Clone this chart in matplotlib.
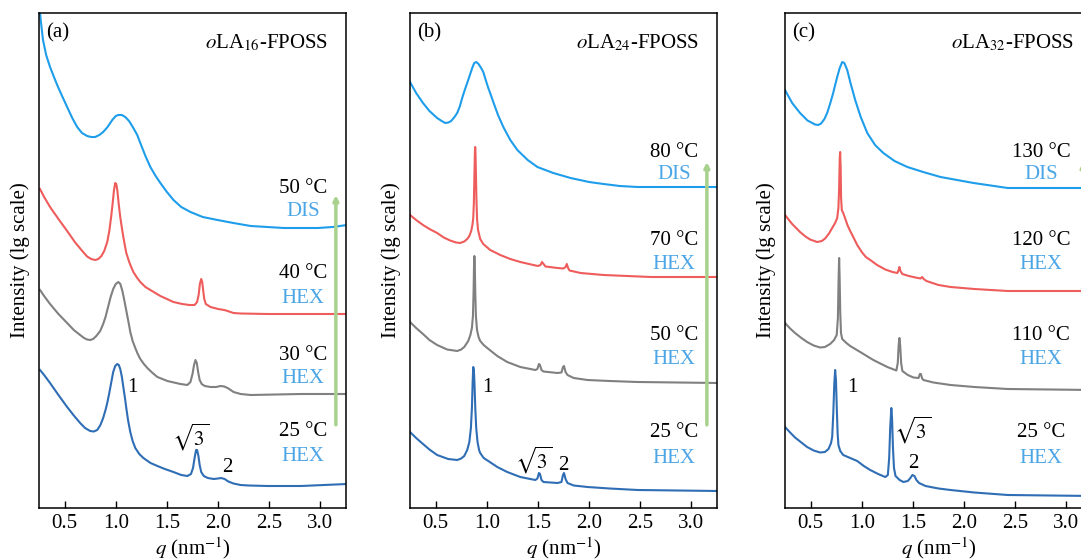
import matplotlib
matplotlib.use("Agg")
import matplotlib.pyplot as plt

plt.rcParams["font.family"] = ["Liberation Serif", "DejaVu Serif"]
plt.rcParams["mathtext.fontset"] = "stix"

# --- data (q in nm^-1, y = lg intensity with offsets, arbitrary units) ---
# panel (a) oLA16-FPOSS
a_q_50 = [0.25, 0.27, 0.289, 0.32, 0.358, 0.40, 0.436, 0.48, 0.525, 0.575, 0.623, 0.67, 0.721, 0.76,
          0.799, 0.84, 0.877, 0.92, 0.966, 1.0, 1.025, 1.06, 1.093, 1.13, 1.172, 1.21, 1.24, 1.29,
          1.338, 1.39, 1.436, 1.50, 1.564, 1.64, 1.73, 1.85, 1.995, 2.15, 2.319, 2.48, 2.642, 2.81,
          2.975, 3.12, 3.26]
a_y_50 = [505, 485, 468, 453, 441, 430, 421, 411, 401, 390, 381, 375, 372, 371,
          371, 373, 376, 381, 388, 392, 393, 393, 391, 387, 380, 373, 365, 352,
          341, 332, 325, 316, 308, 301, 296, 291, 288, 285, 282, 281, 280, 280,
          280, 281, 283]
a_q_40 = [0.26, 0.30, 0.358, 0.44, 0.525, 0.60, 0.681, 0.72, 0.76, 0.80, 0.83, 0.86, 0.887, 0.917,
          0.937, 0.956, 0.97, 0.983, 0.995, 1.005, 1.015, 1.03, 1.044, 1.06, 1.074, 1.09, 1.103,
          1.135, 1.172, 1.21, 1.24, 1.29, 1.338, 1.436, 1.564, 1.65, 1.72, 1.77, 1.795, 1.81, 1.822,
          1.835, 1.845, 1.855, 1.865, 1.88, 1.926, 2.0, 2.06, 2.093, 2.15, 2.22, 2.485, 3.26]
a_y_40 = [319, 311, 301, 289, 277, 266, 256, 251.5, 249, 248, 249, 252, 257, 266,
          277, 292, 305, 318, 325, 324, 318, 303, 291, 280, 271, 262, 255,
          245, 236, 230, 226, 221, 218, 212, 206, 204, 203, 203, 206, 213, 224,
          229, 226, 217, 209, 204, 201, 199, 198, 197, 195, 194.5, 194, 194]
a_q_30 = [0.26, 0.30, 0.358, 0.44, 0.525, 0.59, 0.652, 0.69, 0.72, 0.75, 0.779, 0.81, 0.848, 0.877,
          0.90, 0.925, 0.95, 0.975, 1.0, 1.025, 1.045, 1.065, 1.083, 1.1, 1.113, 1.13, 1.142, 1.165,
          1.191, 1.215, 1.24, 1.275, 1.309, 1.36, 1.407, 1.505, 1.632, 1.70, 1.73, 1.75, 1.765, 1.779,
          1.792, 1.805, 1.82, 1.84, 1.87, 1.926, 1.98, 2.025, 2.06, 2.093, 2.152, 2.22, 2.319, 2.81,
          3.26]
a_y_30 = [218, 212, 204, 194, 185, 178, 173, 170, 168.5, 168, 169, 172, 177, 184,
          191, 201, 211, 219, 224, 226, 224, 217, 208, 199, 192, 183, 176, 167,
          160, 154, 149, 144, 140, 135, 131, 127, 124, 123, 126, 134, 143, 148,
          145, 136, 128, 124, 122, 121, 121, 122, 121.5, 120, 116, 114, 113, 114,
          114]
a_q_25 = [0.26, 0.30, 0.358, 0.44, 0.525, 0.59, 0.652, 0.70, 0.75, 0.785, 0.819, 0.85, 0.877, 0.90,
          0.917, 0.935, 0.955, 0.975, 0.995, 1.015, 1.03, 1.044, 1.06, 1.074, 1.09, 1.103, 1.12,
          1.142, 1.165, 1.191, 1.23, 1.27, 1.34, 1.407, 1.48, 1.564, 1.64, 1.70, 1.735, 1.755, 1.772,
          1.785, 1.795, 1.808, 1.82, 1.835, 1.86, 1.90, 1.956, 2.0, 2.03, 2.064, 2.10, 2.15, 2.22,
          2.3, 2.485, 2.81, 3.26]
a_y_25 = [138, 133, 125, 113, 101, 92.5, 85, 80, 77, 76.5, 78, 83, 90, 98,
          105, 114, 125, 136, 142, 144, 143, 139, 131, 121, 110, 100, 88,
          76, 67, 60, 54, 50, 45, 42, 39, 36, 33, 32, 34, 40, 51,
          58, 58, 52, 43, 36, 32, 30, 29, 29.5, 30, 29, 26.5, 24.5, 23,
          22.5, 22, 22, 24]

# panel (b) oLA24-FPOSS
b_q_80 = [0.25, 0.31, 0.377, 0.44, 0.515, 0.56, 0.593, 0.625, 0.652, 0.685, 0.711, 0.735, 0.76,
          0.785, 0.809, 0.835, 0.858, 0.878, 0.897, 0.92, 0.945, 0.966, 0.99, 1.015, 1.04, 1.064,
          1.11, 1.162, 1.23, 1.299, 1.40, 1.495, 1.65, 1.819, 2.0, 2.142, 2.30, 2.475, 3.26]
b_y_80 = [426, 415, 405, 397, 390, 387, 385, 385.5, 387, 391, 395, 401, 410,
          418, 425, 433, 440, 445, 446, 444, 440, 436, 428, 420, 413, 406,
          393, 381, 368, 358, 348, 341, 335, 330, 326, 324, 322, 321, 321]
b_q_70 = [0.25, 0.31, 0.377, 0.44, 0.515, 0.58, 0.642, 0.70, 0.74, 0.78, 0.809, 0.83, 0.848, 0.86,
          0.868, 0.874, 0.879, 0.884, 0.887, 0.890, 0.895, 0.90, 0.906, 0.915, 0.936, 0.966, 1.034,
          1.132, 1.23, 1.328, 1.456, 1.50, 1.525, 1.54, 1.555, 1.574, 1.691, 1.75, 1.77, 1.782, 1.795,
          1.809, 1.917, 2.142, 2.603, 3.26]
b_y_70 = [293, 288, 283, 279, 275, 270.5, 267.5, 265.5, 265, 266.5, 269, 272, 277, 283,
          290, 305, 330, 355, 361, 355, 330, 305, 288, 278, 269, 264, 258,
          253, 249, 246, 243, 242, 243, 246, 244, 241.5, 240, 239.5, 241, 244, 240,
          237.5, 235, 233, 231, 231]
b_q_50 = [0.25, 0.31, 0.377, 0.44, 0.515, 0.613, 0.711, 0.75, 0.78, 0.819, 0.84, 0.855, 0.865,
          0.871, 0.876, 0.879, 0.883, 0.888, 0.894, 0.905, 0.92, 0.936, 0.97, 1.005, 1.103, 1.2,
          1.328, 1.475, 1.495, 1.51, 1.52, 1.535, 1.554, 1.691, 1.73, 1.745, 1.755, 1.77, 1.789,
          1.85, 1.985, 2.2, 2.475, 3.26]
b_y_50 = [186, 180, 174, 168, 163, 158.5, 157, 158.5, 161, 167, 173, 180, 192,
          215, 245, 252, 245, 215, 192, 178, 171, 167, 163, 160, 152, 146,
          141, 138, 139, 144, 143, 138, 136.5, 135, 135.5, 141, 142, 136, 133,
          130, 128, 127, 126, 125]
b_q_25 = [0.25, 0.31, 0.377, 0.44, 0.515, 0.623, 0.711, 0.75, 0.78, 0.809, 0.83, 0.845, 0.855,
          0.862, 0.868, 0.874, 0.88, 0.888, 0.897, 0.91, 0.925, 0.936, 0.97, 1.015, 1.103, 1.2,
          1.328, 1.475, 1.495, 1.51, 1.52, 1.535, 1.554, 1.691, 1.73, 1.745, 1.755, 1.77, 1.789,
          1.85, 1.985, 2.2, 2.475, 3.26]
b_y_25 = [76, 70, 64, 58.5, 53, 49, 48, 49.5, 52, 58, 66, 80, 100,
          125, 141, 138, 125, 100, 80, 66, 58, 55, 50, 47, 41, 36,
          31, 28, 29.5, 35, 34, 28, 26, 25, 26, 33, 35, 29, 25,
          22.5, 21, 19.5, 18, 17]

# panel (c) oLA32-FPOSS
c_q_130 = [0.25, 0.32, 0.397, 0.47, 0.544, 0.575, 0.603, 0.635, 0.662, 0.69, 0.721, 0.74, 0.76,
           0.785, 0.809, 0.83, 0.858, 0.89, 0.936, 0.99, 1.054, 1.13, 1.211, 1.32, 1.446, 1.6,
           1.77, 2.093, 2.426, 3.26]
c_y_130 = [418, 405, 395, 387.5, 383.5, 383, 384.5, 389, 395, 404, 415, 423, 431,
           440, 446, 445, 438, 425, 408, 391, 375, 363, 355, 347, 341, 336,
           331, 325, 320, 320]
c_q_120 = [0.25, 0.32, 0.397, 0.45, 0.495, 0.564, 0.61, 0.642, 0.68, 0.711, 0.74, 0.76, 0.772,
           0.779, 0.785, 0.789, 0.794, 0.798, 0.805, 0.819, 0.84, 0.86, 0.887, 0.917, 0.956, 1.0,
           1.04, 1.083, 1.15, 1.23, 1.30, 1.348, 1.36, 1.368, 1.378, 1.397, 1.46, 1.525, 1.575,
           1.59, 1.605, 1.632, 1.75, 1.868, 2.1, 2.426, 3.26]
c_y_120 = [293, 284, 276, 271.5, 268.5, 266, 267, 269.5, 274.5, 280, 285, 290, 300,
           320, 350, 356, 340, 310, 298, 295, 289, 283, 277, 271, 263, 256,
           251, 248, 243, 238.5, 236, 235, 238, 241, 237, 234, 232, 230.5, 229.5,
           231, 229, 227, 223, 221, 219, 217, 217]
c_q_110 = [0.25, 0.30, 0.348, 0.41, 0.466, 0.53, 0.593, 0.64, 0.691, 0.73, 0.755, 0.767, 0.774,
           0.779, 0.784, 0.79, 0.797, 0.809, 0.85, 0.887, 0.985, 1.113, 1.25, 1.338, 1.352, 1.36,
           1.368, 1.376, 1.385, 1.397, 1.45, 1.505, 1.555, 1.568, 1.578, 1.59, 1.603, 1.7, 1.868,
           2.1, 2.426, 3.26]
c_y_110 = [185, 179.5, 175, 170, 166, 162.5, 160.5, 161, 164, 168, 173, 190, 230,
           250, 230, 195, 175, 169, 165, 162, 156, 148, 141, 137.5, 145, 162,
           170, 162, 145, 137, 133, 130.5, 130, 134, 134, 129.5, 128, 125.5, 123,
           121, 119, 118]
c_q_25 = [0.25, 0.30, 0.348, 0.41, 0.466, 0.53, 0.593, 0.64, 0.675, 0.70, 0.711, 0.722, 0.732,
          0.74, 0.748, 0.756, 0.764, 0.772, 0.79, 0.819, 0.887, 0.956, 1.02, 1.083, 1.16, 1.23,
          1.255, 1.268, 1.278, 1.289, 1.296, 1.305, 1.315, 1.33, 1.37, 1.407, 1.45, 1.475, 1.495,
          1.515, 1.534, 1.56, 1.623, 1.75, 1.868, 2.1, 2.426, 3.26]
c_y_25 = [81, 75.5, 70.5, 65.5, 61, 57.5, 55.5, 56, 59, 65, 71, 95, 125,
          138, 128, 100, 75, 63, 57, 53, 50, 47, 42, 38, 34, 31,
          33, 50, 80, 100, 90, 60, 40, 32, 28, 26, 27, 30, 33,
          32, 28, 25, 22, 19.5, 18, 15.5, 13, 12]

panels = [
    dict(tag="(a)", name=r"$o$LA$_{16}$-FPOSS",
         curves=[(a_q_50, a_y_50), (a_q_40, a_y_40), (a_q_30, a_y_30), (a_q_25, a_y_25)],
         temps=["50 °C", "40 °C", "30 °C", "25 °C"], phases=["DIS", "HEX", "HEX", "HEX"],
         label_y=[0.646, 0.598, 0.473, 0.424, 0.309, 0.261, 0.154, 0.105], label_x=0.86,
         arrow_x=0.967, arrow=(0.168, 0.632),
         idx=[(1.162, 121, "1"), (1.73, 71, r"$\sqrt{3}$"), (2.093, 40, "2")]),
    dict(tag="(b)", name=r"$o$LA$_{24}$-FPOSS",
         curves=[(b_q_80, b_y_80), (b_q_70, b_y_70), (b_q_50, b_y_50), (b_q_25, b_y_25)],
         temps=["80 °C", "70 °C", "50 °C", "25 °C"], phases=["DIS", "HEX", "HEX", "HEX"],
         label_y=[0.719, 0.673, 0.541, 0.491, 0.349, 0.299, 0.152, 0.099], label_x=0.86,
         arrow_x=0.967, arrow=(0.168, 0.699),
         idx=[(1.005, 121, "1"), (1.456, 48, r"$\sqrt{3}$"), (1.75, 43, "2")]),
    dict(tag="(c)", name=r"$o$LA$_{32}$-FPOSS",
         curves=[(c_q_130, c_y_130), (c_q_120, c_y_120), (c_q_110, c_y_110), (c_q_25, c_y_25)],
         temps=["130 °C", "120 °C", "110 °C", "25 °C"], phases=["DIS", "HEX", "HEX", "HEX"],
         label_y=[0.719, 0.673, 0.541, 0.491, 0.349, 0.299, 0.152, 0.101], label_x=0.835,
         arrow_x=0.971, arrow=(0.168, 0.699),
         idx=[(0.907, 121, "1"), (1.495, 78, r"$\sqrt{3}$"), (1.505, 45, "2")]),
]

line_colors = ["#1E9DEB", "#EE5C5C", "#808080", "#2F6EB5"]
phase_color = "#4CA6E6"
arrow_color = "#A9D18E"

fig = plt.figure(figsize=(10.81, 5.59), dpi=100)
lefts = [39, 410, 785]

for left, p in zip(lefts, panels):
    ax = fig.add_axes([left / 1081, 51 / 559, 307 / 1081, 495 / 559])
    for (q, y), c in zip(p["curves"], line_colors):
        ax.plot(q, y, color=c, lw=1.5, solid_joinstyle="round")
    ax.set_xlim(0.25, 3.25)
    ax.set_ylim(0, 495)
    ax.set_xticks([0.5, 1.0, 1.5, 2.0, 2.5, 3.0])
    ax.set_xticklabels(["0.5", "1.0", "1.5", "2.0", "2.5", "3.0"])
    ax.set_yticks([])
    ax.tick_params(axis="x", direction="in", length=5, width=1, labelsize=15, pad=4)
    for s in ax.spines.values():
        s.set_linewidth(1.1)
    ax.set_xlabel(r"$q$ (nm$^{-1}$)", fontsize=15, labelpad=2)
    ax.text(-0.062, 0.5, "Intensity (lg scale)", transform=ax.transAxes,
            rotation=90, ha="center", va="center", fontsize=15)

    ax.text(0.024, 0.96, p["tag"], transform=ax.transAxes, ha="left", va="center", fontsize=15)
    ax.text(0.943, 0.94, p["name"], transform=ax.transAxes, ha="right", va="center", fontsize=15)

    for i, (t, ph) in enumerate(zip(p["temps"], p["phases"])):
        ax.text(p["label_x"], p["label_y"][2 * i], t, transform=ax.transAxes,
                ha="center", va="center", fontsize=15)
        ax.text(p["label_x"], p["label_y"][2 * i + 1], ph, transform=ax.transAxes,
                ha="center", va="center", fontsize=15, color=phase_color)

    for qx, yy, s in p["idx"]:
        ax.text(qx, yy, s, ha="center", va="center", fontsize=15)

    y0, y1 = p["arrow"]
    ax.annotate("", xy=(p["arrow_x"], y1), xytext=(p["arrow_x"], y0), xycoords="axes fraction",
                arrowprops=dict(arrowstyle="-|>", color=arrow_color, lw=2.5,
                                mutation_scale=7, shrinkA=0, shrinkB=0))

fig.savefig("out.png", dpi=100)
